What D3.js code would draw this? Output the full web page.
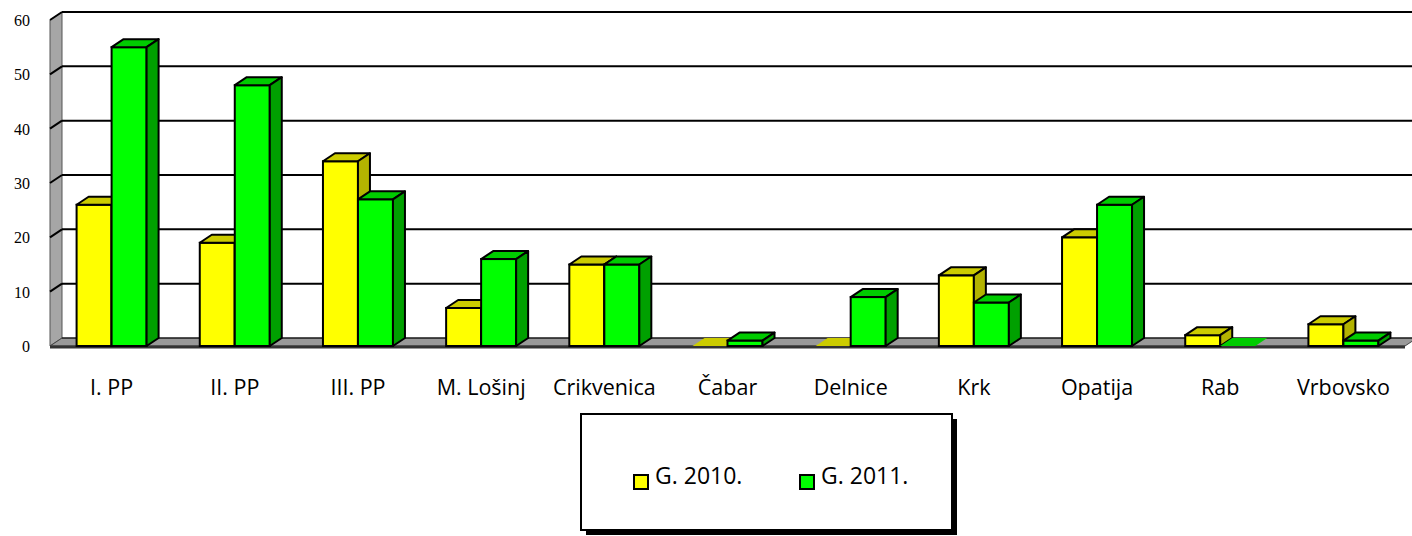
<!DOCTYPE html>
<html>
<head>
<meta charset="utf-8">
<script src="https://cdn.jsdelivr.net/npm/d3@7"></script>
<style>
html,body{margin:0;padding:0;background:#fff;}
svg{display:block;}
</style>
</head>
<body>
<svg id="chart" width="1412" height="536"></svg>
<script>
const categories = ["I. PP","II. PP","III. PP","M. Lošinj","Crikvenica","Čabar","Delnice","Krk","Opatija","Rab","Vrbovsko"];
const values2010 = [26,19,34,7,15,0,0,13,20,2,4];
const values2011 = [55,48,27,16,15,1,9,8,26,0,1];
const seriesNames = ["G. 2010.","G. 2011."];
const yTicks = [0,10,20,30,40,50,60];

const svg = d3.select("#chart");
const dx = 12, dy = -8;
const y = d3.scaleLinear().domain([0,60]).range([346,20]);
const x = d3.scaleBand().domain(categories).range([50,1405]);
const barW = 35;
const rightEnd = 1420;

const colors = [
  {front:"#FFFF00", top:"#CCCC00", side:"#B3B300"},
  {front:"#00FF00", top:"#00CC00", side:"#00A000"}
];

// left wall
svg.append("polygon")
  .attr("points", [[50,y(0)],[50,y(60)],[50+dx,y(60)+dy],[50+dx,y(0)+dy]].map(p=>p.join(",")).join(" "))
  .attr("fill","#A6A6A6").attr("stroke","#555").attr("stroke-width",1);

// floor
svg.append("polygon")
  .attr("points", [[50,y(0)],[50+dx,y(0)+dy],[1405+dx,y(0)+dy],[1405,y(0)]].map(p=>p.join(",")).join(" "))
  .attr("fill","#999999").attr("stroke","#444").attr("stroke-width",1);
svg.append("line").attr("x1",50).attr("x2",1405).attr("y1",y(0)+1).attr("y2",y(0)+1)
  .attr("stroke","#333").attr("stroke-width",3);

// gridlines
yTicks.forEach(t=>{
  const yf = y(t), yb = y(t)+dy;
  if (t>0) {
    svg.append("line").attr("x1",50).attr("y1",yf).attr("x2",50+dx).attr("y2",yb)
      .attr("stroke","#000").attr("stroke-width",2);
    svg.append("line").attr("x1",50+dx).attr("y1",yb).attr("x2",rightEnd).attr("y2",yb)
      .attr("stroke","#000").attr("stroke-width",2);
  } else {
    svg.append("line").attr("x1",50+dx).attr("y1",yb).attr("x2",1405+dx).attr("y2",yb)
      .attr("stroke","#000").attr("stroke-width",1);
  }
});

// y tick labels
svg.append("g").selectAll("text").data(yTicks).join("text")
  .attr("x",30).attr("y",d=>y(d)+6)
  .attr("text-anchor","end")
  .attr("font-family","'Liberation Serif','DejaVu Serif',serif")
  .attr("font-size",16).attr("fill","#000")
  .text(d=>d);

// bars
function bar(g, x0, v, c) {
  const y0 = y(0), yt = y(v);
  if (v === 0) {
    g.append("polygon")
      .attr("points", [[x0,y0],[x0+dx,y0+dy],[x0+barW+dx,y0+dy],[x0+barW,y0]].map(p=>p.join(",")).join(" "))
      .attr("fill", c.top);
    return;
  }
  g.append("rect").attr("x",x0).attr("y",yt).attr("width",barW).attr("height",y0-yt)
    .attr("fill",c.front).attr("stroke","#000").attr("stroke-width",2);
  g.append("polygon")
    .attr("points", [[x0,yt],[x0+dx,yt+dy],[x0+barW+dx,yt+dy],[x0+barW,yt]].map(p=>p.join(",")).join(" "))
    .attr("fill",c.top).attr("stroke","#000").attr("stroke-width",2).attr("stroke-linejoin","round");
  g.append("polygon")
    .attr("points", [[x0+barW,yt],[x0+barW+dx,yt+dy],[x0+barW+dx,y0+dy],[x0+barW,y0]].map(p=>p.join(",")).join(" "))
    .attr("fill",c.side).attr("stroke","#000").attr("stroke-width",2).attr("stroke-linejoin","round");
}
const barsG = svg.append("g");
categories.forEach((cat,i)=>{
  const cx = x(cat) + x.bandwidth()/2;
  bar(barsG, cx - barW, values2010[i], colors[0]);
  bar(barsG, cx, values2011[i], colors[1]);
});

// category labels
svg.append("g").selectAll("text").data(categories).join("text")
  .attr("x",d=>x(d)+x.bandwidth()/2).attr("y",395)
  .attr("text-anchor","middle")
  .attr("font-family","'Open Sans',sans-serif")
  .attr("font-size",21.5).attr("fill","#000")
  .text(d=>d);

// legend
const lg = svg.append("g");
lg.append("rect").attr("x",586).attr("y",419).attr("width",371).attr("height",116).attr("fill","#000");
lg.append("rect").attr("x",581).attr("y",414).attr("width",371).attr("height",116)
  .attr("fill","#fff").attr("stroke","#000").attr("stroke-width",2);
const legX = [634, 800];
seriesNames.forEach((n,i)=>{
  lg.append("rect").attr("x",legX[i]).attr("y",475).attr("width",14).attr("height",14)
    .attr("fill",colors[i].front).attr("stroke","#000").attr("stroke-width",2);
  lg.append("text").attr("x",legX[i]+21).attr("y",484)
    .attr("font-family","'Open Sans',sans-serif").attr("font-size",23).attr("fill","#000")
    .text(n);
});
</script>
</body>
</html>
